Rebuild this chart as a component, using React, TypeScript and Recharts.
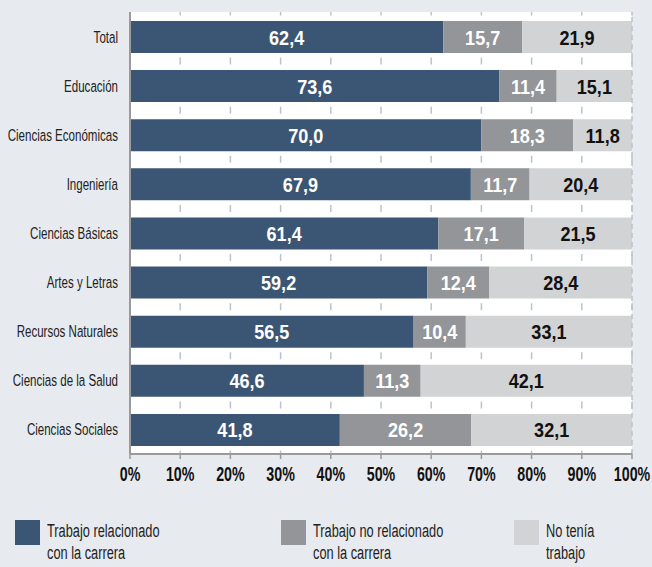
import { FC } from 'react';
import {
  BarChart,
  Bar,
  XAxis,
  YAxis,
  CartesianGrid,
  LabelList,
  ReferenceLine
} from 'recharts';

// Categories, top to bottom
const categories = [
  'Total',
  'Educación',
  'Ciencias Económicas',
  'Ingeniería',
  'Ciencias Básicas',
  'Artes y Letras',
  'Recursos Naturales',
  'Ciencias de la Salud',
  'Ciencias Sociales'
];

// Percent values per series
const related = [62.4, 73.6, 70.0, 67.9, 61.4, 59.2, 56.5, 46.6, 41.8];
const unrelated = [15.7, 11.4, 18.3, 11.7, 17.1, 12.4, 10.4, 11.3, 26.2];
const noWork = [21.9, 15.1, 11.8, 20.4, 21.5, 28.4, 33.1, 42.1, 32.1];

const xTicks = [0, 10, 20, 30, 40, 50, 60, 70, 80, 90, 100];

const SERIES = [
  { key: 'related', lines: ['Trabajo relacionado', 'con la carrera'], color: '#3b5674', text: '#ffffff' },
  { key: 'unrelated', lines: ['Trabajo no relacionado', 'con la carrera'], color: '#939598', text: '#ffffff' },
  { key: 'noWork', lines: ['No tenía', 'trabajo'], color: '#d1d3d4', text: '#111111' }
];

// No condensed font installed, so Liberation Sans gets squeezed horizontally
const FONT = "'Liberation Sans', Arial, sans-serif";
const BG = '#e7eaee';
const GRID = '#b9c3d0';

const chartData = categories.map((name, i) => ({
  name,
  related: related[i],
  unrelated: unrelated[i],
  noWork: noWork[i]
}));

// 62.4 -> "62,4"
const formatValue = (v: unknown): string => Number(v).toFixed(1).replace('.', ',');

const LEGEND_X = [15, 281, 514];

const YTick = (props: any) => {
  const { x, y, payload } = props;
  return (
    <g transform={`translate(${x},${y}) scale(0.68,1)`}>
      <text x={0} y={6} textAnchor="end" fill="#222" fontSize={17} fontFamily={FONT}>
        {payload.value}
      </text>
    </g>
  );
};

const XTick = (props: any) => {
  const { x, y, payload } = props;
  return (
    <g transform={`translate(${x},${y}) scale(0.73,1)`}>
      <text x={0} y={14} textAnchor="middle" fill="#111" fontSize={19.5} fontWeight={700} fontFamily={FONT}>
        {`${String(payload.value)}%`}
      </text>
    </g>
  );
};

const makeBarLabel = (color: string) => (props: any) => {
  const { x, y, width, height, value } = props;
  const cx = Number(x) + Number(width) / 2;
  const cy = Number(y) + Number(height) / 2;
  return (
    <g transform={`translate(${cx},${cy}) scale(0.86,1)`}>
      <text x={0} y={7.5} textAnchor="middle" fill={color} fontSize={21} fontWeight={700} fontFamily={FONT}>
        {formatValue(value)}
      </text>
    </g>
  );
};

const App: FC = () => {
  return (
    <div
      style={{
        position: 'absolute',
        left: 0,
        top: 0,
        width: 652,
        height: 567,
        background: BG,
        fontFamily: FONT,
        overflow: 'hidden'
      }}
    >
      <BarChart
        width={652}
        height={567}
        data={chartData}
        layout="vertical"
        margin={{ top: 12, right: 20, bottom: 83, left: 0 }}
        barSize={32}
      >
        <CartesianGrid
          horizontal={false}
          vertical
          fill="#ffffff"
          stroke={GRID}
          strokeWidth={1.5}
          strokeDasharray="7 42.11"
          strokeDashoffset={3.5}
        />
        <XAxis
          type="number"
          domain={[0, 100]}
          ticks={xTicks}
          allowDataOverflow
          height={30}
          axisLine={{ stroke: '#9a9a9a', strokeWidth: 2 }}
          tickLine={{ stroke: '#9a9a9a', strokeWidth: 1.5 }}
          tickSize={5}
          tickMargin={8}
          tick={XTick}
          interval={0}
        />
        <YAxis
          type="category"
          dataKey="name"
          width={130}
          axisLine={{ stroke: '#9a9a9a', strokeWidth: 2 }}
          tickLine={false}
          tickSize={0}
          tickMargin={12}
          tick={YTick}
          interval={0}
        />
        <ReferenceLine x={100} stroke={GRID} strokeWidth={1.5} strokeDasharray="5 4" />
        {SERIES.map((s) => (
          <Bar key={s.key} dataKey={s.key} stackId="a" fill={s.color} isAnimationActive={false}>
            <LabelList dataKey={s.key} content={makeBarLabel(s.text)} />
          </Bar>
        ))}
      </BarChart>

      {SERIES.map((s, i) => (
        <div
          key={s.key}
          style={{ position: 'absolute', left: LEGEND_X[i], top: 520, display: 'flex' }}
        >
          <div style={{ width: 25, height: 25, background: s.color, marginRight: 7, flexShrink: 0 }} />
          <div
            style={{
              fontSize: 18,
              lineHeight: '22px',
              color: '#222',
              marginTop: 0,
              transform: 'scaleX(0.71)',
              transformOrigin: 'left top',
              whiteSpace: 'nowrap'
            }}
          >
            {s.lines.map((line) => (
              <div key={line}>{line}</div>
            ))}
          </div>
        </div>
      ))}
    </div>
  );
};

export default App;
